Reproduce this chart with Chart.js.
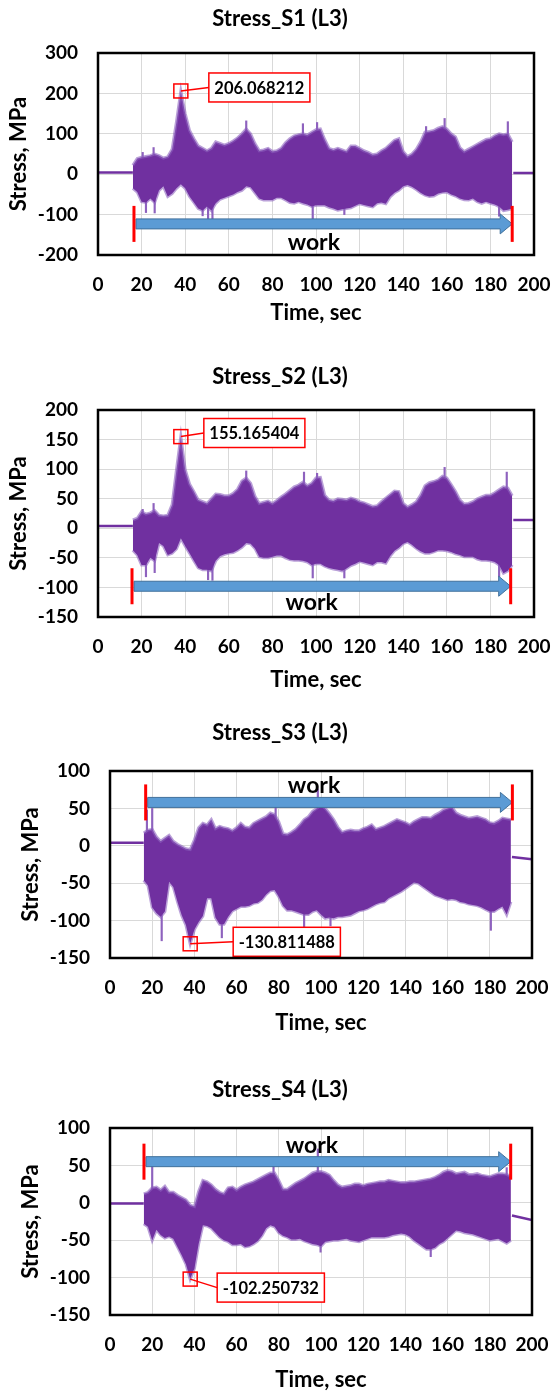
<!DOCTYPE html>
<html>
<head>
<meta charset="utf-8">
<title>Stress L3</title>
<script src="https://cdn.jsdelivr.net/npm/chart.js@4.4.0/dist/chart.umd.min.js"></script>
<style>
  html, body { margin: 0; padding: 0; background: #fff; }
  #page { position: relative; width: 554px; height: 1394px; overflow: hidden; }
  #page canvas { position: absolute; left: 0; }
</style>
</head>
<body>
<div id="page">
  <canvas id="c1" width="554" height="340" style="top:0px"></canvas>
  <canvas id="c2" width="554" height="360" style="top:340px"></canvas>
  <canvas id="c3" width="554" height="350" style="top:690px"></canvas>
  <canvas id="c4" width="554" height="354" style="top:1040px"></canvas>
</div>
<script>
// sample times (sec) of the envelope readings
const timeSec = [
  16, 18, 20, 22, 24, 26, 28, 30, 32, 34,
  36, 38, 40, 42, 44, 46, 48, 50, 52, 54,
  56, 58, 60, 62, 64, 66, 68, 70, 72, 74,
  76, 78, 80, 82, 84, 86, 88, 90, 92, 94,
  96, 98, 100, 102, 104, 106, 108, 110, 112, 114,
  116, 118, 120, 122, 124, 126, 128, 130, 132, 134,
  136, 138, 140, 142, 144, 146, 148, 150, 152, 154,
  156, 158, 160, 162, 164, 166, 168, 170, 172, 174,
  176, 178, 180, 182, 184, 186, 188, 190
];
const preTime = [0, 16];
const postTime = [190.5, 200];

// S1 envelope (MPa)
const s1Upper = [
  22, 39, 42, 44, 46, 50, 46, 40, 43, 62,
  130, 206, 150, 108, 88, 70, 64, 58, 64, 80,
  76, 72, 76, 82, 90, 100, 112, 100, 76, 58,
  60, 64, 56, 58, 64, 78, 88, 95, 98, 100,
  97, 104, 110, 112, 86, 64, 60, 64, 60, 56,
  70, 70, 64, 58, 54, 48, 50, 58, 64, 74,
  84, 88, 56, 44, 50, 62, 80, 104, 106, 108,
  114, 118, 112, 100, 92, 66, 56, 62, 68, 74,
  80, 86, 88, 95, 100, 98, 100, 80
];
const s1Lower = [
  -35, -44, -68, -70, -60, -70, -40, -30, -55, -48,
  -35, -25, -35, -55, -70, -85, -90, -80, -90, -72,
  -62, -58, -54, -50, -44, -40, -30, -32, -46, -60,
  -64, -64, -64, -58, -58, -64, -70, -72, -68, -72,
  -75, -80, -77, -77, -77, -82, -85, -89, -87, -85,
  -83, -78, -73, -76, -79, -81, -72, -70, -73, -56,
  -46, -40, -30, -27, -31, -38, -46, -52, -55, -54,
  -48, -45, -44, -50, -54, -60, -63, -64, -60, -68,
  -72, -68, -72, -75, -80, -90, -88, -85
];
const s1Pre = [4, 4];
const s1Post = [3, 3];
const s1SpikeTime = [20.5, 25.5, 68, 94, 100.5, 150.5, 159, 188, 22, 26, 48, 50.5, 52.5, 98.5, 113, 184];
const s1SpikeVal = [54, 66, 132, 125, 128, 118, 138, 130, -95, -96, -103, -110, -112, -112, -100, -104];

// S2 envelope (MPa)
const s2Upper = [
  14, 17, 28, 24, 26, 30, 22, 21, 22, 40,
  99, 155, 99, 75, 62, 48, 45, 42, 50, 58,
  57, 55, 55, 59, 66, 80, 85, 76, 54, 42,
  44, 46, 42, 47, 53, 58, 64, 70, 73, 78,
  72, 76, 85, 86, 56, 48, 46, 50, 49, 48,
  51, 49, 45, 43, 40, 37, 38, 45, 51, 57,
  63, 62, 42, 36, 40, 45, 56, 72, 77, 79,
  82, 88, 85, 74, 62, 48, 41, 42, 45, 50,
  53, 56, 56, 60, 65, 70, 68, 55
];
const s2Lower = [
  -37, -45, -62, -62, -50, -55, -25, -30, -45, -42,
  -35, -17, -30, -42, -55, -67, -70, -70, -72, -55,
  -47, -44, -42, -41, -37, -32, -25, -26, -34, -48,
  -50, -50, -48, -46, -46, -50, -53, -54, -54, -55,
  -57, -62, -60, -60, -64, -67, -69, -70, -72, -68,
  -63, -60, -56, -58, -60, -62, -57, -57, -59, -47,
  -38, -33, -26, -23, -28, -34, -39, -42, -42, -40,
  -37, -37, -38, -40, -43, -45, -48, -48, -48, -52,
  -54, -54, -55, -57, -62, -76, -72, -62
];
const s2Pre = [4, 4];
const s2Post = [14, 14];
const s2SpikeTime = [20.5, 25.5, 68, 94.5, 100.5, 159, 187.5, 22, 26, 50.5, 52.5, 98.5, 113, 184];
const s2SpikeVal = [32, 42, 97, 95, 93, 103, 95, -82, -75, -87, -88, -84, -84, -82];

// S3 envelope (MPa)
const s3Upper = [
  17, 21, 22, 12, 6, 10, 14, 6, 2, -1,
  -4, -5, 8, 24, 30, 28, 35, 23, 26, 24,
  23, 20, 24, 30, 25, 24, 30, 33, 36, 39,
  44, 42, 32, 16, 15, 18, 22, 28, 35, 39,
  46, 50, 55, 50, 43, 35, 25, 18, 20, 21,
  20, 20, 23, 25, 28, 22, 24, 26, 29, 32,
  35, 33, 31, 28, 32, 35, 38, 38, 37, 41,
  44, 48, 50, 52, 44, 41, 39, 37, 38, 39,
  37, 35, 31, 30, 33, 37, 36, 35
];
const s3Lower = [
  -46, -53, -82, -90, -95, -88, -48, -55, -75, -93,
  -106, -131, -112, -102, -94, -70, -70, -96, -105, -105,
  -95, -87, -84, -81, -81, -80, -77, -76, -72, -65,
  -60, -59, -68, -80, -86, -86, -88, -90, -92, -92,
  -88, -86, -92, -97, -96, -97, -95, -95, -94, -93,
  -90, -87, -86, -84, -81, -78, -76, -75, -70, -67,
  -64, -61, -57, -53, -49, -50, -54, -58, -62, -66,
  -68, -70, -72, -71, -72, -75, -76, -78, -79, -80,
  -82, -85, -88, -88, -84, -81, -92, -75
];
const s3Pre = [4, 4];
const s3Post = [-15, -18];
const s3SpikeTime = [17.5, 20, 78.5, 98.5, 162, 24.5, 53, 92, 104.5, 180.5];
const s3SpikeVal = [48, 50, 55, 76, 55, -127, -123, -110, -107, -113];

// S4 envelope (MPa)
const s4Upper = [
  12, 14, 20, 21, 17, 22, 14, 14, 10, 7,
  4, -3, -5, 15, 30, 28, 24, 18, 14, 12,
  20, 21, 17, 21, 24, 26, 28, 31, 34, 37,
  40, 40, 30, 18, 18, 22, 26, 29, 32, 36,
  40, 42, 42, 40, 37, 30, 24, 21, 22, 23,
  25, 25, 23, 25, 26, 27, 28, 28, 30, 29,
  28, 27, 27, 28, 28, 29, 30, 31, 32, 34,
  37, 41, 43, 42, 39, 40, 41, 38, 38, 39,
  37, 36, 35, 37, 39, 39, 38, 35
];
const s4Lower = [
  -28, -32, -50, -36, -43, -47, -45, -48, -59, -70,
  -82, -102, -88, -55, -30, -31, -34, -40, -46, -50,
  -52, -56, -56, -55, -59, -58, -55, -51, -44, -34,
  -30, -32, -40, -44, -46, -49, -49, -48, -51, -53,
  -55, -56, -58, -52, -51, -50, -50, -49, -48, -50,
  -51, -52, -50, -48, -46, -46, -46, -46, -45, -43,
  -42, -41, -42, -45, -50, -54, -58, -62, -62, -60,
  -55, -52, -47, -42, -37, -38, -40, -41, -42, -44,
  -46, -48, -50, -49, -48, -51, -54, -50
];
const s4Pre = [-1, -1];
const s4Post = [-17, -23];
const s4SpikeTime = [20, 77.5, 98.5, 188, 99.8, 152];
const s4SpikeVal = [52, 50, 72, 47, -66, -72];

const xRange = [0, 200];
const xStep = 20;
const yRanges = [[-200, 300], [-150, 200], [-150, 100], [-150, 100]];
const ySteps = [100, 50, 50, 50];
const titles = ['Stress_S1 (L3)', 'Stress_S2 (L3)', 'Stress_S3 (L3)', 'Stress_S4 (L3)'];
const peakLabels = ['206.068212', '155.165404', '-130.811488', '-102.250732'];
const workSpans = [[16.5, 190], [15.6, 189.3], [16.9, 190.7], [16.1, 189.9]];

const PURPLE = '#7030A0';
const EDGE = 'rgba(140, 96, 190, 0.6)';
const FONT = 'Lato, "Open Sans", sans-serif';

// layout of each panel (pixels, local to its canvas)
const panels = [
  { id: 'c1', up: s1Upper, lo: s1Lower, pre: s1Pre, post: s1Post, st: s1SpikeTime, sv: s1SpikeVal, peak: 'max',
    H: 340, L: 98, R: 534, T: 53, B: 255, titleY: 19, yTitleX: 18.5, xTitleY: 313,
    arrowY: -123, workText: [99, -170], box: [28, -3.5] },
  { id: 'c2', up: s2Upper, lo: s2Lower, pre: s2Pre, post: s2Post, st: s2SpikeTime, sv: s2SpikeVal, peak: 'max',
    H: 360, L: 98, R: 534, T: 70, B: 277, titleY: 37, yTitleX: 18.5, xTitleY: 340,
    arrowY: -98, workText: [98, -126], box: [23, -3.6] },
  { id: 'c3', up: s3Upper, lo: s3Lower, pre: s3Pre, post: s3Post, st: s3SpikeTime, sv: s3SpikeVal, peak: 'min',
    H: 350, L: 110, R: 532, T: 81, B: 268, titleY: 43, yTitleX: 31, xTitleY: 333,
    arrowY: 58, workText: [96.7, 81], box: [43, -2] },
  { id: 'c4', up: s4Upper, lo: s4Lower, pre: s4Pre, post: s4Post, st: s4SpikeTime, sv: s4SpikeVal, peak: 'min',
    H: 354, L: 110, R: 532, T: 88, B: 275, titleY: 50, yTitleX: 31, xTitleY: 340,
    arrowY: 55, workText: [95.7, 77], box: [27, 8.5] }
];

const decor = {
  id: 'decor',
  afterDatasetsDraw(chart, args, o) {
    const ctx = chart.ctx;
    const xs = chart.scales.x, ys = chart.scales.y;
    ctx.save();

    // work arrow between two red markers
    const ay = ys.getPixelForValue(o.arrowY);
    const xa = xs.getPixelForValue(o.span[0]);
    const xb = xs.getPixelForValue(o.span[1]);
    ctx.beginPath();
    ctx.moveTo(xa + 2, ay - 5);
    ctx.lineTo(xb - 12, ay - 5);
    ctx.lineTo(xb - 12, ay - 10);
    ctx.lineTo(xb, ay);
    ctx.lineTo(xb - 12, ay + 10);
    ctx.lineTo(xb - 12, ay + 5);
    ctx.lineTo(xa + 2, ay + 5);
    ctx.closePath();
    ctx.fillStyle = '#5B9BD5';
    ctx.fill();
    ctx.strokeStyle = '#41719C';
    ctx.lineWidth = 1;
    ctx.stroke();

    ctx.strokeStyle = '#FF0000';
    ctx.lineWidth = 3;
    [xa, xb].forEach(x => {
      ctx.beginPath();
      ctx.moveTo(x, ay - 18);
      ctx.lineTo(x, ay + 18);
      ctx.stroke();
    });

    ctx.fillStyle = '#000';
    ctx.font = 'bold 23px ' + FONT;
    ctx.textAlign = 'center';
    ctx.textBaseline = 'middle';
    ctx.fillText('work', xs.getPixelForValue(o.workText[0]), ys.getPixelForValue(o.workText[1]));

    // peak marker and its label
    const px = xs.getPixelForValue(o.peakX);
    const py = ys.getPixelForValue(o.peakY);
    ctx.font = 'bold 16.5px ' + FONT;
    const tw = ctx.measureText(o.label).width;
    const bw = tw + 11, bh = 29;
    const bx = px + o.box[0], by = py + o.box[1] - bh / 2;
    ctx.strokeStyle = '#FF0000';
    ctx.lineWidth = 1.5;
    ctx.beginPath();
    ctx.moveTo(px, py);
    ctx.lineTo(bx, by + bh / 2);
    ctx.stroke();
    ctx.strokeRect(px - 7, py - 7, 14, 14);
    ctx.fillStyle = '#fff';
    ctx.fillRect(bx, by, bw, bh);
    ctx.strokeRect(bx, by, bw, bh);
    ctx.fillStyle = '#000';
    ctx.textAlign = 'left';
    ctx.fillText(o.label, bx + 5.5, by + bh / 2 + 1);
    ctx.restore();
  },
  afterDraw(chart, args, o) {
    const ctx = chart.ctx, a = chart.chartArea;
    ctx.save();
    ctx.strokeStyle = '#000';
    ctx.lineWidth = 2.5;
    ctx.strokeRect(a.left, a.top, a.right - a.left, a.bottom - a.top);
    ctx.fillStyle = '#000';
    ctx.font = 'bold 22px ' + FONT;
    ctx.textAlign = 'center';
    ctx.textBaseline = 'middle';
    ctx.fillText(o.title, 280, o.titleY);
    ctx.restore();
  }
};

panels.forEach(function(p, i) {
  const upperPts = timeSec.map((t, k) => ({ x: t, y: p.up[k] }));
  const lowerPts = timeSec.map((t, k) => ({ x: t, y: p.lo[k] }));
  const prePts = preTime.map((t, k) => ({ x: t, y: p.pre[k] }));
  const postPts = postTime.map((t, k) => ({ x: t, y: p.post[k] }));
  const spikePts = p.st.map((t, k) => ({ x: t, y: [0, p.sv[k]] }));

  const vals = p.peak === 'max' ? p.up : p.lo;
  const ext = p.peak === 'max' ? Math.max(...vals) : Math.min(...vals);
  const k = vals.indexOf(ext);

  const lh = 22 * 1.2;
  new Chart(document.getElementById(p.id), {
    type: 'line',
    data: {
      datasets: [
        { data: prePts, borderColor: PURPLE, borderWidth: 2.5, pointRadius: 0, fill: false },
        { data: postPts, borderColor: PURPLE, borderWidth: 2.5, pointRadius: 0, fill: false },
        { data: upperPts, borderColor: EDGE, borderWidth: 3, pointRadius: 0,
          backgroundColor: PURPLE, fill: '+1' },
        { data: lowerPts, borderColor: EDGE, borderWidth: 3, pointRadius: 0, fill: false },
        { type: 'bar', data: spikePts, backgroundColor: '#8E62BE', barThickness: 1.5 }
      ]
    },
    options: {
      responsive: false,
      animation: false,
      layout: { padding: { left: 0, right: 554 - p.R, top: p.T, bottom: 0 } },
      plugins: {
        legend: { display: false },
        tooltip: { enabled: false },
        decor: {
          title: titles[i], titleY: p.titleY, span: workSpans[i], arrowY: p.arrowY,
          workText: p.workText, peakX: timeSec[k], peakY: ext, label: peakLabels[i], box: p.box
        }
      },
      scales: {
        x: {
          type: 'linear',
          offset: false,
          min: xRange[0], max: xRange[1],
          afterFit: s => { s.height = p.H - p.B; s.paddingLeft = 0; s.paddingRight = 0; },
          ticks: { stepSize: xStep, padding: 18.6, maxRotation: 0, autoSkip: false, color: '#000',
                   font: { family: FONT, size: 19, weight: 'bold' } },
          grid: { color: '#D9D9D9', drawTicks: false, offset: false },
          border: { display: false },
          title: { display: true, text: 'Time, sec', color: '#000',
                   font: { family: FONT, size: 22, weight: 'bold' },
                   padding: { top: 0, bottom: p.H - p.xTitleY - lh / 2 } }
        },
        y: {
          min: yRanges[i][0], max: yRanges[i][1],
          afterFit: s => { s.width = p.L; s.paddingTop = 0; s.paddingBottom = 0; },
          ticks: { stepSize: ySteps[i], padding: 20, color: '#000',
                   font: { family: FONT, size: 19, weight: 'bold' } },
          grid: { color: '#D9D9D9', drawTicks: false },
          border: { display: false },
          title: { display: true, text: 'Stress, MPa', color: '#000',
                   font: { family: FONT, size: 22, weight: 'bold' },
                   padding: { top: p.yTitleX - lh / 2, bottom: 0 } }
        }
      }
    },
    plugins: [decor]
  });
});
</script>
</body>
</html>
